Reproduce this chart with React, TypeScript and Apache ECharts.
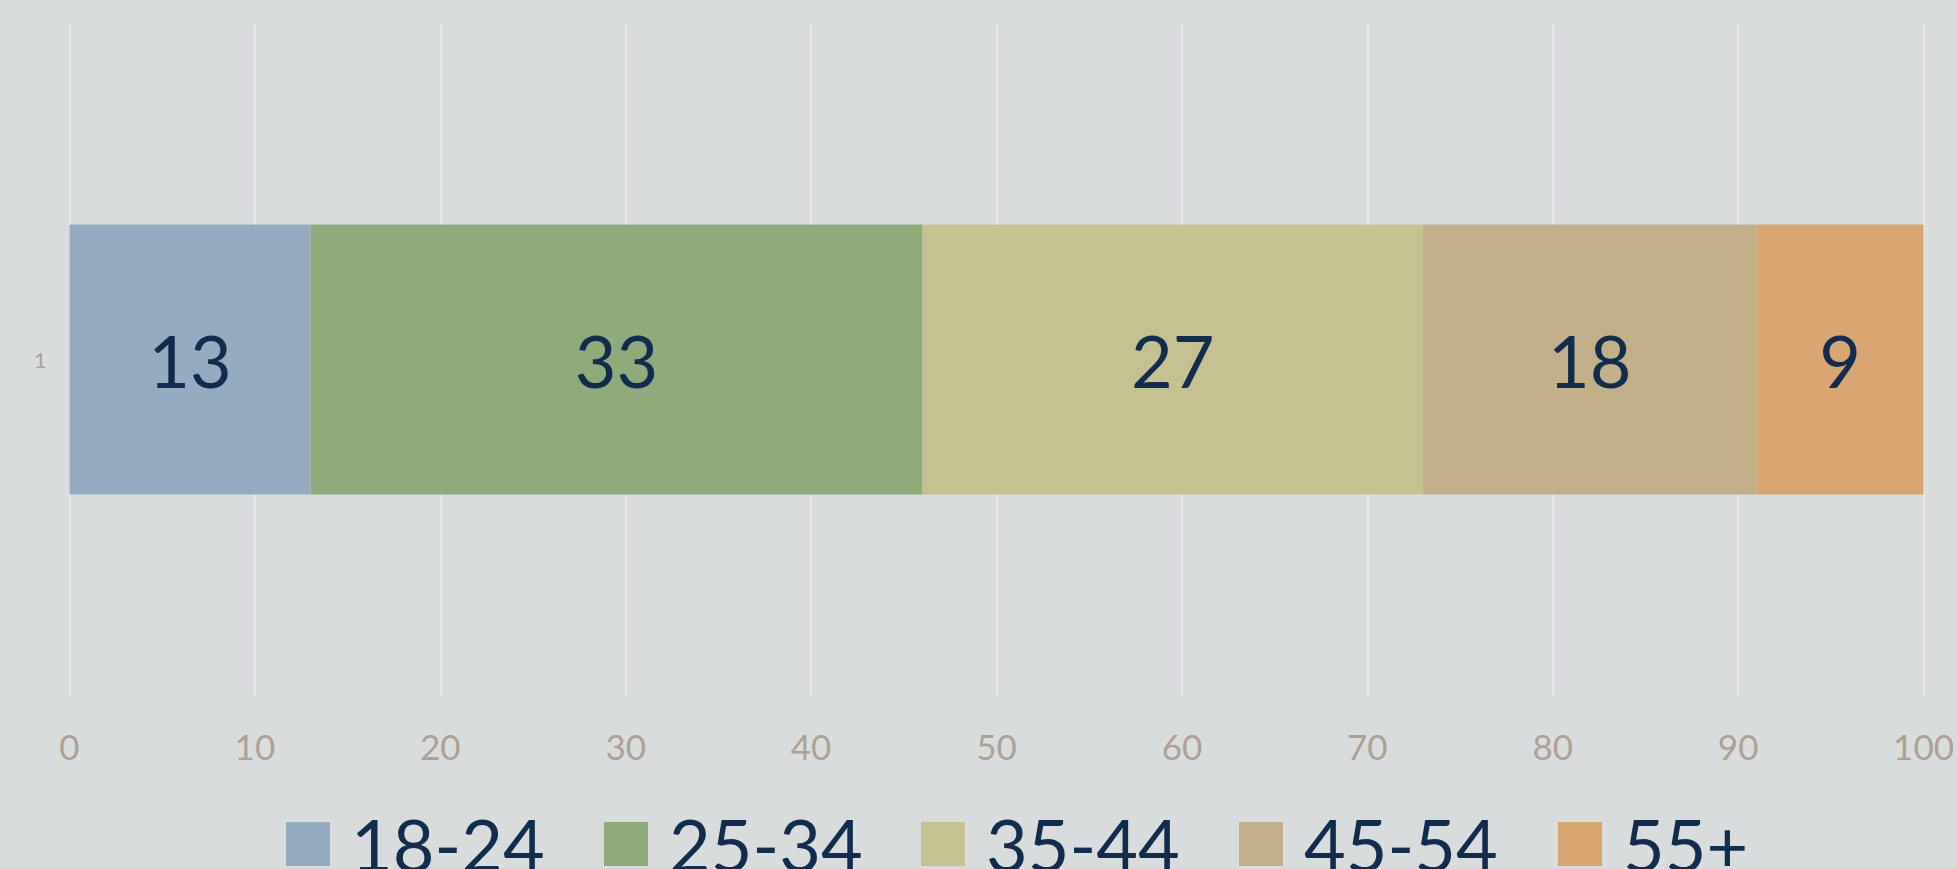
import React, { useEffect, useRef } from "react";
import * as echarts from "echarts";

const categories = ["1"];
const seriesNames = ["18-24", "25-34", "35-44", "45-54", "55+"];
const seriesValues = [[13], [33], [27], [18], [9]];
const seriesColors = ["#94abc1", "#8fab7a", "#c5c28f", "#c3b088", "#d9a671"];
const xTicks = { min: 0, max: 100, interval: 10 };
const legendLefts = [286, 604, 921, 1239, 1558];

const FONT = "Lato, 'Open Sans', sans-serif";
const NAVY = "#102c4f";
const TICK = "#ada193";

export default function App() {
  const ref = useRef<HTMLDivElement>(null);
  useEffect(() => {
    document.body.style.margin = "0";
    if (!ref.current) return;
    const chart = echarts.init(ref.current, null, { renderer: "svg" });
    chart.setOption({
      animation: false,
      backgroundColor: "#d9dcdd",
      textStyle: { fontFamily: FONT },
      grid: { left: 69.5, right: 29.5, top: 23, bottom: 173, containLabel: false },
      xAxis: {
        type: "value",
        min: xTicks.min,
        max: xTicks.max,
        interval: xTicks.interval,
        axisLine: { show: false },
        axisTick: { show: false },
        axisLabel: { color: TICK, fontSize: 35, fontFamily: FONT, margin: 32 },
        splitLine: { show: true, lineStyle: { color: "#ebe8e4", width: 2 } },
      },
      yAxis: {
        type: "category",
        data: categories,
        axisLine: { show: false },
        axisTick: { show: false },
        axisLabel: { color: "#aaa39a", fontSize: 22, fontFamily: FONT, margin: 23 },
        splitLine: { show: false },
      },
      legend: seriesNames.map((name, i) => ({
        data: [name],
        left: legendLefts[i],
        top: 805,
        icon: "rect",
        itemWidth: 44,
        itemHeight: 44,
        padding: 0,
        textStyle: {
          color: NAVY,
          fontSize: 72,
          lineHeight: 60,
          fontFamily: FONT,
          padding: [0, 0, 18, 16],
        },
      })),
      series: seriesNames.map((name, i) => ({
        name,
        type: "bar",
        stack: "total",
        data: seriesValues[i],
        barWidth: 270,
        itemStyle: { color: seriesColors[i] },
        label: {
          show: true,
          position: "inside",
          color: NAVY,
          fontSize: 72,
          fontFamily: FONT,
        },
      })),
    });
    return () => chart.dispose();
  }, []);
  return <div ref={ref} style={{ width: 1957, height: 869 }} />;
}
